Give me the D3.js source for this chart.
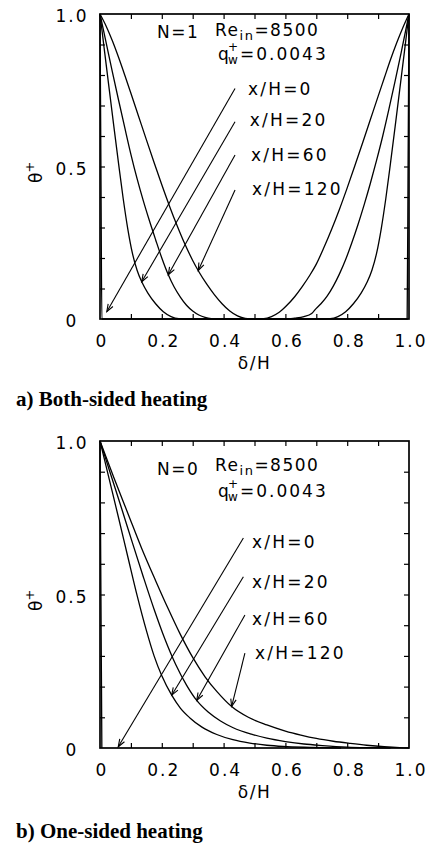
<!DOCTYPE html>
<html>
<head>
<meta charset="utf-8">
<script src="https://cdn.jsdelivr.net/npm/d3@7/dist/d3.min.js"></script>
<style>
  body { margin: 0; background: #fff; }
  svg { display: block; font-family: "DejaVu Sans", sans-serif; }
</style>
</head>
<body>
<div id="chart"></div>
<script>
// tick values / labels
var xTicks = [0, 0.2, 0.4, 0.6, 0.8, 1.0];
var xTickLabels = ['0', '0.2', '0.4', '0.6', '0.8', '1.0'];
var yTicks = [0, 0.5, 1.0];
var yTickLabels = ['0', '0.5', '1.0'];
var minorTicks = [0.1, 0.2, 0.3, 0.4, 0.5, 0.6, 0.7, 0.8, 0.9];
var caseLabels = ['x/H=0', 'x/H=20', 'x/H=60', 'x/H=120'];

// a) both-sided heating, N=1  [delta/H, theta+]
var bothX0 = [[0,1],[0.003,0.5],[0.006,0],[0.994,0],[0.997,0.5],[1,1]];
var bothX20 = [[0,1],[0.015,0.875],[0.03,0.752],[0.045,0.63],[0.06,0.51],[0.075,0.395],[0.09,0.295],[0.105,0.215],[0.12,0.16],[0.135,0.122],[0.155,0.085],[0.18,0.05],[0.205,0.024],[0.23,0.008],[0.255,0.001],[0.28,0],
  [0.72,0],[0.745,0.001],[0.77,0.008],[0.795,0.024],[0.82,0.05],[0.845,0.085],[0.865,0.122],[0.88,0.16],[0.895,0.215],[0.91,0.295],[0.925,0.395],[0.94,0.51],[0.955,0.63],[0.97,0.752],[0.985,0.875],[1,1]];
var bothX60 = [[0,1],[0.02,0.905],[0.04,0.81],[0.06,0.718],[0.08,0.628],[0.1,0.54],[0.12,0.46],[0.14,0.388],[0.16,0.322],[0.18,0.26],[0.2,0.2],[0.221,0.145],[0.24,0.105],[0.26,0.072],[0.28,0.045],[0.3,0.026],[0.32,0.013],[0.34,0.005],[0.36,0.001],[0.38,0],
  [0.6,0],[0.63,0.003],[0.66,0.008],[0.685,0.018],[0.7,0.035],[0.715,0.05],[0.735,0.075],[0.755,0.108],[0.775,0.148],[0.795,0.195],[0.815,0.25],[0.835,0.31],[0.855,0.375],[0.875,0.445],[0.895,0.52],[0.915,0.6],[0.935,0.688],[0.955,0.78],[0.975,0.875],[1,1]];
var bothX120 = [[0,1],[0.02,0.96],[0.04,0.912],[0.06,0.858],[0.08,0.8],[0.1,0.74],[0.125,0.664],[0.15,0.588],[0.175,0.513],[0.2,0.44],[0.225,0.37],[0.25,0.305],[0.275,0.245],[0.3,0.192],[0.32,0.155],[0.345,0.115],[0.37,0.08],[0.395,0.05],[0.42,0.026],[0.445,0.01],[0.47,0.002],[0.5,0],
  [0.53,0.001],[0.555,0.008],[0.58,0.022],[0.605,0.045],[0.63,0.073],[0.655,0.107],[0.68,0.145],[0.7,0.18],[0.725,0.235],[0.75,0.295],[0.775,0.36],[0.8,0.43],[0.825,0.503],[0.85,0.578],[0.875,0.654],[0.9,0.73],[0.92,0.79],[0.94,0.85],[0.96,0.905],[0.98,0.955],[1,1]];

// b) one-sided heating, N=0
var oneX0 = [[0,1],[0.003,0.5],[0.006,0]];
var oneX20 = [[0,1],[0.03,0.875],[0.06,0.75],[0.09,0.623],[0.12,0.497],[0.15,0.383],[0.175,0.3],[0.2,0.235],[0.232,0.172],[0.26,0.13],[0.291,0.098],[0.33,0.068],[0.378,0.044],[0.43,0.027],[0.485,0.016],[0.54,0.009],[0.593,0.005],[0.68,0.002],[0.78,0]];
var oneX60 = [[0,1],[0.035,0.89],[0.07,0.78],[0.105,0.668],[0.14,0.558],[0.175,0.452],[0.21,0.355],[0.245,0.272],[0.28,0.205],[0.313,0.155],[0.35,0.117],[0.39,0.088],[0.431,0.066],[0.49,0.045],[0.54,0.032],[0.6,0.021],[0.66,0.013],[0.72,0.008],[0.8,0.003],[0.88,0.001],[0.94,0]];
var oneX120 = [[0,1],[0.045,0.88],[0.09,0.765],[0.135,0.65],[0.18,0.545],[0.22,0.455],[0.26,0.37],[0.3,0.295],[0.34,0.232],[0.38,0.182],[0.426,0.135],[0.48,0.1],[0.54,0.075],[0.6,0.055],[0.65,0.042],[0.7,0.031],[0.755,0.022],[0.81,0.015],[0.863,0.009],[0.92,0.004],[0.97,0.001],[1,0]];

var width = 435;
var height = 846;

var svg = d3.select('#chart')
  .append('svg')
  .attr('width', width)
  .attr('height', height);

var panels = [
  {
    top: 14, bottom: 319,
    curves: [bothX0, bothX20, bothX60, bothX120],
    arrowFrom: [[0.437,0.756],[0.437,0.647],[0.437,0.538],[0.437,0.423]],
    arrowTo: [[0.022,0.024],[0.135,0.122],[0.221,0.145],[0.318,0.159]],
    labelAt: [[0.479,0.734],[0.485,0.633],[0.489,0.518],[0.492,0.407]],
    nText: 'N=1', nY: 38, reY: 36, qY: 60,
    caption: 'a) Both-sided heating', captionY: 406
  },
  {
    top: 441, bottom: 748,
    curves: [oneX0, oneX20, oneX60, oneX120],
    arrowFrom: [[0.464,0.684],[0.464,0.558],[0.469,0.433],[0.469,0.309]],
    arrowTo: [[0.059,0.004],[0.232,0.172],[0.313,0.155],[0.426,0.135]],
    labelAt: [[0.492,0.651],[0.492,0.521],[0.492,0.401],[0.502,0.29]],
    nText: 'N=0', nY: 475, reY: 471, qY: 497,
    caption: 'b) One-sided heating', captionY: 838
  }
];

panels.forEach(drawPanel);

function drawPanel(p) {
  var x = d3.scaleLinear().domain([0, 1]).range([100, 409]);
  var y = d3.scaleLinear().domain([0, 1]).range([p.bottom, p.top]);
  var g = svg.append('g');

  var line = d3.line()
    .x(function(d) { return x(d[0]); })
    .y(function(d) { return y(d[1]); })
    .curve(d3.curveMonotoneX);

  g.selectAll('path.curve')
    .data(p.curves)
    .enter()
    .append('path')
    .attr('class', 'curve')
    .attr('fill', 'none')
    .attr('stroke', '#000')
    .attr('stroke-width', 1.3)
    .attr('d', line);

  // inside ticks on all four sides
  var noLabel = function() { return ''; };
  g.append('g').attr('transform', 'translate(0,' + p.bottom + ')')
    .call(d3.axisBottom(x).tickValues(minorTicks).tickSize(-5).tickSizeOuter(0).tickFormat(noLabel));
  g.append('g').attr('transform', 'translate(0,' + p.top + ')')
    .call(d3.axisTop(x).tickValues(minorTicks).tickSize(-5).tickSizeOuter(0).tickFormat(noLabel));
  g.append('g').attr('transform', 'translate(100,0)')
    .call(d3.axisLeft(y).tickValues(minorTicks).tickSize(-5).tickSizeOuter(0).tickFormat(noLabel));
  g.append('g').attr('transform', 'translate(409,0)')
    .call(d3.axisRight(y).tickValues(minorTicks).tickSize(-5).tickSizeOuter(0).tickFormat(noLabel));
  g.selectAll('.tick line').attr('stroke', '#000').attr('stroke-width', 1.2);
  g.selectAll('.domain').remove();

  g.append('rect')
    .attr('x', x(0)).attr('y', y(1))
    .attr('width', x(1) - x(0)).attr('height', y(0) - y(1))
    .attr('fill', 'none').attr('stroke', '#000').attr('stroke-width', 1.7);

  // tick labels
  g.selectAll('text.xl')
    .data(xTicks)
    .enter()
    .append('text')
    .attr('class', 'xl')
    .attr('x', function(d) { return x(d) + 2; })
    .attr('y', p.bottom + 28)
    .attr('text-anchor', 'middle')
    .attr('font-size', 17)
    .attr('letter-spacing', 2)
    .text(function(d, i) { return xTickLabels[i]; });

  g.selectAll('text.yl')
    .data(yTicks)
    .enter()
    .append('text')
    .attr('class', 'yl')
    .attr('x', 72)
    .attr('y', function(d) { return y(d) + 8; })
    .attr('text-anchor', 'middle')
    .attr('font-size', 17)
    .attr('letter-spacing', 2)
    .text(function(d, i) { return yTickLabels[i]; });

  // axis titles
  g.append('text')
    .attr('x', x(0.5))
    .attr('y', p.bottom + 50)
    .attr('text-anchor', 'middle')
    .attr('font-size', 17)
    .attr('letter-spacing', 1.5)
    .text('δ/H');

  var yt = g.append('text')
    .attr('transform', 'translate(42,' + (y(0.5) + 16.5) + ') rotate(-90)')
    .attr('font-size', 17);
  yt.append('tspan').text('θ');
  yt.append('tspan').attr('dy', -8).attr('font-size', 13).text('+');

  // arrows
  g.selectAll('line.arrow')
    .data(p.arrowFrom)
    .enter()
    .append('line')
    .attr('class', 'arrow')
    .attr('x1', function(d) { return x(d[0]); })
    .attr('y1', function(d) { return y(d[1]); })
    .attr('x2', function(d, i) { return x(p.arrowTo[i][0]); })
    .attr('y2', function(d, i) { return y(p.arrowTo[i][1]); })
    .attr('stroke', '#000')
    .attr('stroke-width', 1.1);

  g.selectAll('path.head')
    .data(p.arrowTo)
    .enter()
    .append('path')
    .attr('class', 'head')
    .attr('fill', 'none')
    .attr('stroke', '#000')
    .attr('stroke-width', 1.1)
    .attr('d', function(d, i) {
      var tx = x(d[0]), ty = y(d[1]);
      var fx = x(p.arrowFrom[i][0]), fy = y(p.arrowFrom[i][1]);
      var a = Math.atan2(fy - ty, fx - tx);
      var len = 8, spread = 0.35;
      return 'M' + (tx + len * Math.cos(a - spread)) + ',' + (ty + len * Math.sin(a - spread)) +
        'L' + tx + ',' + ty +
        'L' + (tx + len * Math.cos(a + spread)) + ',' + (ty + len * Math.sin(a + spread));
    });

  g.selectAll('text.case')
    .data(caseLabels)
    .enter()
    .append('text')
    .attr('class', 'case')
    .attr('x', function(d, i) { return x(p.labelAt[i][0]); })
    .attr('y', function(d, i) { return y(p.labelAt[i][1]); })
    .attr('font-size', 17)
    .attr('letter-spacing', 2.2)
    .text(function(d) { return d; });

  // header notes
  g.append('text')
    .attr('x', 157).attr('y', p.nY)
    .attr('font-size', 17).attr('letter-spacing', 1.5)
    .text(p.nText);

  var re = g.append('text')
    .attr('x', 215).attr('y', p.reY)
    .attr('font-size', 17).attr('letter-spacing', 1.5);
  re.append('tspan').text('Re');
  re.append('tspan').attr('dy', 4).attr('font-size', 13).text('in');
  re.append('tspan').attr('dy', -4).text('=8500');

  g.append('text').attr('x', 218).attr('y', p.qY).attr('font-size', 17).text('q');
  g.append('text').attr('x', 228).attr('y', p.qY - 9).attr('font-size', 12).text('+');
  g.append('text').attr('x', 228).attr('y', p.qY + 4).attr('font-size', 12).text('w');
  g.append('text').attr('x', 240).attr('y', p.qY)
    .attr('font-size', 17).attr('letter-spacing', 2)
    .text('=0.0043');

  // caption
  svg.append('text')
    .attr('x', 16).attr('y', p.captionY)
    .attr('font-family', '"Liberation Serif", "Times New Roman", serif')
    .attr('font-weight', 'bold')
    .attr('font-size', 21)
    .text(p.caption);
}
</script>
</body>
</html>
